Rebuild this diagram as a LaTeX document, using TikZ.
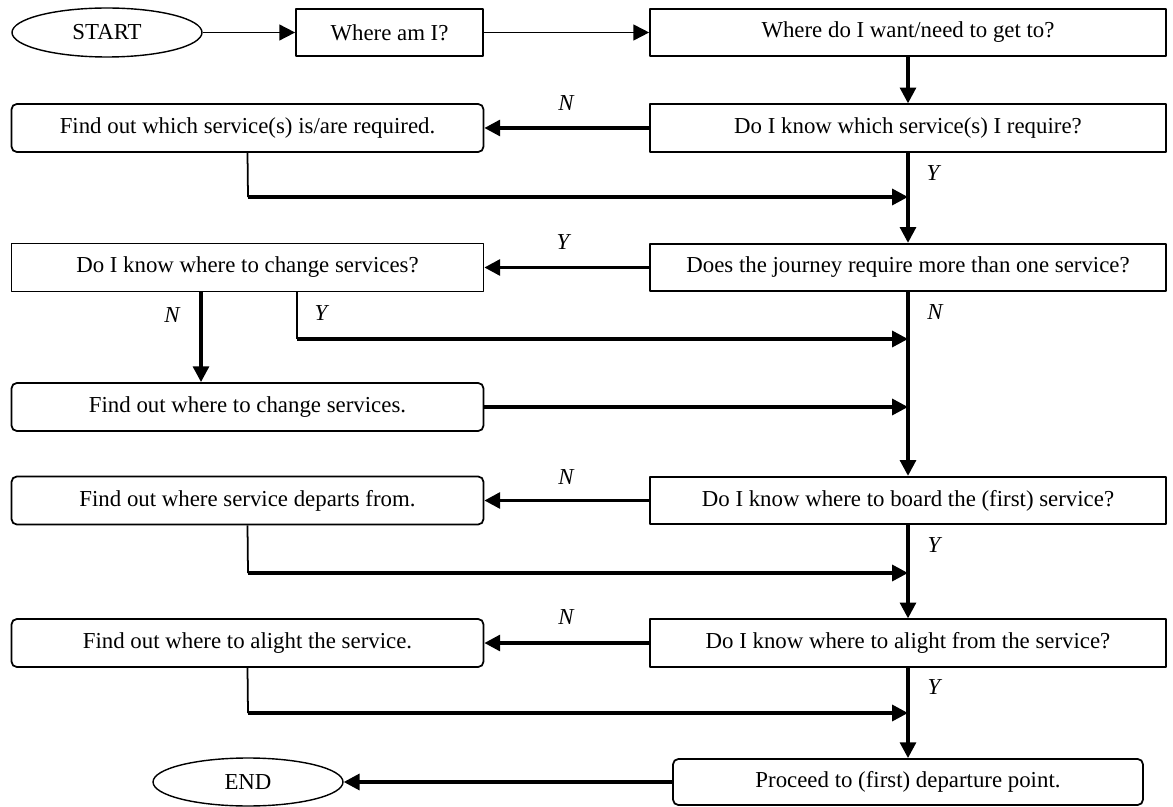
\documentclass[tikz,border=0pt]{standalone}
\usepackage{fontspec}
\setmainfont{Liberation Serif}
\usetikzlibrary{arrows.meta,shapes.geometric}

\begin{document}
\begin{tikzpicture}[x=0.02cm,y=-0.02cm,>={Triangle[length=9pt,width=9pt]},line join=round,
  every node/.style={font=\fontsize{13}{15}\selectfont,inner sep=0pt},
  qbox/.style={draw,line width=1pt,minimum width=10.32cm,minimum height=0.95cm},
  abox/.style={draw,line width=1pt,rounded corners=3pt,minimum width=9.44cm,minimum height=0.96cm},
  term/.style={draw,ellipse,line width=0.8pt,minimum width=3.8cm,minimum height=0.98cm},
  thinlink/.style={line width=1pt},
  link/.style={line width=2pt},
  yn/.style={font=\fontsize{13}{15}\selectfont\itshape}]
  \useasboundingbox (0,0) rectangle (1173,807);

  \node[term] (start) at (107,32.5) {START};
  \node[qbox,minimum width=3.74cm] (whereami) at (389.5,32.5) {Where am I?};
  \node[qbox] (whereto) at (908,32.5) {Where do I want/need to get to?};
  \node[qbox] (know) at (908,128) {Do I know which service(s) I require?};
  \node[abox] (findsvc) at (247.5,128) {Find out which service(s) is/are required.};
  \node[qbox] (does) at (908,267.5) {Does the journey require more than one service?};
  \node[qbox,minimum width=9.44cm,minimum height=0.96cm] (changesvc) at (247.5,267.5) {Do I know where to change services?};
  \node[abox] (findchg) at (247.5,407) {Find out where to change services.};
  \node[qbox] (board) at (908,500.5) {Do I know where to board the (first) service?};
  \node[abox] (findsrc) at (247.5,500.5) {Find out where service departs from.};
  \node[qbox] (alightq) at (908,643) {Do I know where to alight from the service?};
  \node[abox] (findalight) at (247.5,643) {Find out where to alight the service.};
  \node[abox,minimum width=9.4cm,minimum height=0.92cm] (proceed) at (908,782) {Proceed to (first) departure point.};
  \node[term,minimum height=0.96cm] (ending) at (248,782) {END};

  \coordinate (j1) at (248,197);
  \coordinate (nx) at (201,0);
  \coordinate (j2) at (297,339);
  \coordinate (j3) at (248,573);
  \coordinate (j4) at (248,713);

  \draw[thinlink,->] (start) -- (whereami);
  \draw[thinlink,->] (whereami) -- (whereto);
  \draw[link,->] (whereto) -- (know);
  \draw[link,->] (know) -- (findsvc);
  \draw[thinlink] (findsvc.south) -- (j1);
  \draw[link,->] (j1) -- (j1 -| know.south);
  \draw[link,->] (know) -- (does);
  \draw[link,->] (does) -- (changesvc);
  \draw[link,->] (changesvc.south -| nx) -- (findchg.north -| nx);
  \draw[thinlink] (changesvc.south -| j2) -- (j2);
  \draw[link,->] (j2) -- (j2 -| does.south);
  \draw[link,->] (findchg.east) -- (findchg.east -| does.south);
  \draw[link,->] (does) -- (board);
  \draw[link,->] (board) -- (findsrc);
  \draw[thinlink] (findsrc.south) -- (j3);
  \draw[link,->] (j3) -- (j3 -| board.south);
  \draw[link,->] (board) -- (alightq);
  \draw[link,->] (alightq) -- (findalight);
  \draw[thinlink] (findalight.south) -- (j4);
  \draw[link,->] (j4) -- (j4 -| alightq.south);
  \draw[link,->] (alightq) -- (proceed);
  \draw[link,->] (proceed) -- (ending);

  \node[yn] (lknow) at (566,103) {N};
  \node[yn] (lknowy) at (933,173) {Y};
  \node[yn] (ldoes) at (563,242) {Y};
  \node[yn] (ldoesn) at (935,312) {N};
  \node[yn] (lchgn) at (172,315) {N};
  \node[yn] (lchgy) at (321,313) {Y};
  \node[yn] (lboard) at (566,477) {N};
  \node[yn] (lboardy) at (934,545) {Y};
  \node[yn] (lalight) at (566,617) {N};
  \node[yn] (lalighty) at (934,687) {Y};
\end{tikzpicture}
\end{document}
